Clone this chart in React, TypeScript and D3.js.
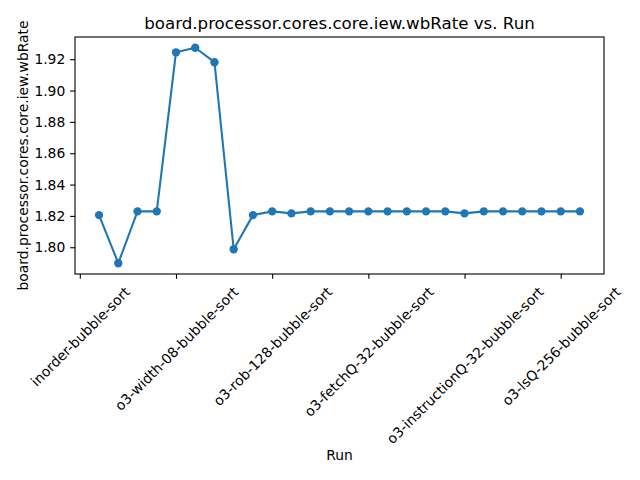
import React, { useEffect, useRef } from 'react';
import * as d3 from 'd3';

// wbRate per run, runs numbered 1..26
const wbRate = [
  1.8205, 1.7898, 1.8229, 1.8229, 1.9244, 1.9273, 1.9181, 1.7987, 1.8205, 1.8229,
  1.8216, 1.8229, 1.8229, 1.8229, 1.8229, 1.8229, 1.8229, 1.8229, 1.8229, 1.8216,
  1.8229, 1.8229, 1.8229, 1.8229, 1.8229, 1.8229,
];
const runIndex = wbRate.map((_, i) => i + 1);

const xTickValues = [0, 5, 10, 15, 20, 25];
const xTickLabels = [
  'inorder-bubble-sort',
  'o3-width-08-bubble-sort',
  'o3-rob-128-bubble-sort',
  'o3-fetchQ-32-bubble-sort',
  'o3-instructionQ-32-bubble-sort',
  'o3-lsQ-256-bubble-sort',
];
const yTickValues = [1.8, 1.82, 1.84, 1.86, 1.88, 1.9, 1.92];

const FONT = '"DejaVu Sans", sans-serif';
const BLUE = '#1f77b4';

export default function App() {
  const ref = useRef<SVGSVGElement>(null);

  useEffect(() => {
    const width = 640;
    const height = 480;
    const margin = { top: 37, right: 36, bottom: 206, left: 75 };
    const innerW = width - margin.left - margin.right;
    const innerH = height - margin.top - margin.bottom;

    const svg = d3.select(ref.current);
    svg.selectAll('*').remove();

    // matplotlib style 5% padding
    const [x0, x1] = d3.extent(runIndex) as [number, number];
    const [y0, y1] = d3.extent(wbRate) as [number, number];
    const xPad = (x1 - x0) * 0.05;
    const yPad = (y1 - y0) * 0.05;

    const x = d3.scaleLinear().domain([x0 - xPad, x1 + xPad]).range([0, innerW]);
    const y = d3.scaleLinear().domain([y0 - yPad, y1 + yPad]).range([innerH, 0]);

    const g = svg.append('g').attr('transform', `translate(${margin.left},${margin.top})`);

    const tickLen = 4.86;
    const fontSize = 13.89;

    // x axis
    const xAxis = g.append('g')
      .attr('transform', `translate(0,${innerH})`)
      .call(
        d3.axisBottom(x)
          .tickValues(xTickValues)
          .tickFormat((_, i) => xTickLabels[i])
          .tickSize(tickLen)
          .tickSizeOuter(0)
      );
    xAxis.select('.domain').remove();
    xAxis.selectAll('line').attr('stroke', '#000').attr('stroke-width', 1.1);
    xAxis.selectAll<SVGTextElement, unknown>('text')
      .attr('font-family', FONT)
      .attr('font-size', fontSize)
      .attr('fill', '#000')
      .attr('text-anchor', 'middle')
      .attr('dominant-baseline', 'central')
      .attr('dy', null)
      .attr('y', 0)
      .each(function () {
        const w = this.getComputedTextLength();
        const side = (w + fontSize * 1.16) * Math.SQRT1_2;
        d3.select(this).attr('transform', `translate(0,${tickLen * 2 + side / 2}) rotate(-45)`);
      });

    // y axis
    const yAxis = g.append('g')
      .call(
        d3.axisLeft(y)
          .tickValues(yTickValues)
          .tickFormat(d3.format('.2f'))
          .tickSize(tickLen)
          .tickPadding(4.86)
          .tickSizeOuter(0)
      );
    yAxis.select('.domain').remove();
    yAxis.selectAll('line').attr('stroke', '#000').attr('stroke-width', 1.1);
    yAxis.selectAll('text')
      .attr('font-family', FONT)
      .attr('font-size', fontSize)
      .attr('fill', '#000');

    // line + markers
    const line = d3.line<number>()
      .x((_, i) => x(runIndex[i]))
      .y(d => y(d));

    g.append('path')
      .datum(wbRate)
      .attr('d', line)
      .attr('fill', 'none')
      .attr('stroke', BLUE)
      .attr('stroke-width', 2.08)
      .attr('stroke-linejoin', 'round')
      .attr('stroke-linecap', 'square');

    g.selectAll('circle.pt')
      .data(wbRate)
      .enter()
      .append('circle')
      .attr('class', 'pt')
      .attr('cx', (_, i) => x(runIndex[i]))
      .attr('cy', d => y(d))
      .attr('r', 4.17)
      .attr('fill', BLUE);

    // frame
    g.append('rect')
      .attr('width', innerW)
      .attr('height', innerH)
      .attr('fill', 'none')
      .attr('stroke', '#000')
      .attr('stroke-width', 1.1);

    // title and labels
    svg.append('text')
      .attr('x', margin.left + innerW / 2)
      .attr('y', 29)
      .attr('text-anchor', 'middle')
      .attr('font-family', FONT)
      .attr('font-size', 16.67)
      .text('board.processor.cores.core.iew.wbRate vs. Run');

    svg.append('text')
      .attr('x', margin.left + innerW / 2)
      .attr('y', 460)
      .attr('text-anchor', 'middle')
      .attr('font-family', FONT)
      .attr('font-size', fontSize)
      .text('Run');

    svg.append('text')
      .attr('transform', `translate(28,${margin.top + innerH / 2}) rotate(-90)`)
      .attr('text-anchor', 'middle')
      .attr('font-family', FONT)
      .attr('font-size', fontSize)
      .text('board.processor.cores.core.iew.wbRate');
  }, []);

  return (
    <svg
      ref={ref}
      width={640}
      height={480}
      style={{ position: 'absolute', left: 0, top: 0, background: '#fff' }}
    />
  );
}
